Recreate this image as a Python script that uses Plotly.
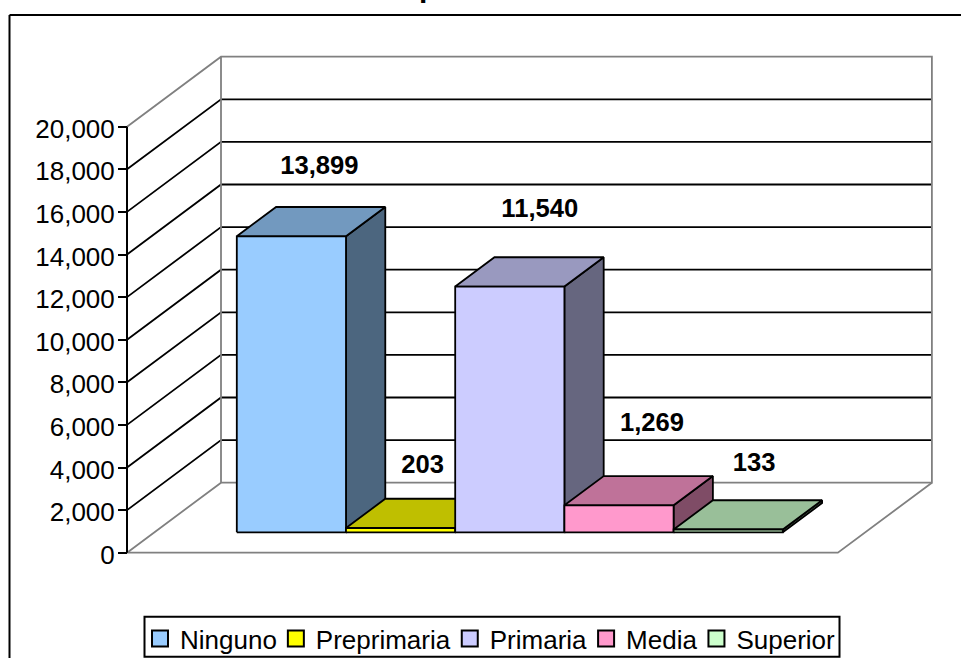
import plotly.graph_objects as go

categories = ["Ninguno", "Preprimaria", "Primaria", "Media", "Superior"]
values = [13899, 203, 11540, 1269, 133]
value_labels = ["13,899", "203", "11,540", "1,269", "133"]
colors = ["#99CCFF", "#FFFF00", "#CCCCFF", "#FF99CC", "#CCFFCC"]
tick_values = list(range(0, 20001, 2000))
tick_labels = [f"{v:,}" for v in tick_values]

W, H = 961, 658
CAT_PX = 109.2            # pixels per category
VAL_PX = 426 / 20000      # pixels per value unit
AX_LEFT_PX, AX_ZERO_PX = 127, 552.7
CAT_MIN, CAT_MAX = -0.755, 5.755
DX = 94 / CAT_PX          # depth offset in category units
DY = 70 / VAL_PX          # depth offset in value units
BAR_D0, BAR_D1 = 0.291, 0.709
LINE = 1.8
GREY = "#808080"

# label offsets from the top-centre of each bar's front face, in px
label_dx_px = [28, 22, 30, 33, 26]
label_dy_px = [68.5, 61.5, 75.5, 81, 65]

x0 = CAT_MIN - AX_LEFT_PX / CAT_PX
y0 = -(H - AX_ZERO_PX) / VAL_PX


def proj(c, v, d):
    return c + DX * d, v + DY * d


def shade(hexcolor, f):
    r, g, b = (int(hexcolor[i:i + 2], 16) for i in (1, 3, 5))
    return f"rgb({int(r * f)},{int(g * f)},{int(b * f)})"


def path(points):
    pts = [proj(*p) for p in points]
    return [p[0] for p in pts], [p[1] for p in pts]


fig = go.Figure()


def line(points, color, width=LINE):
    x, y = path(points)
    fig.add_trace(go.Scatter(x=x, y=y, mode="lines", showlegend=False, hoverinfo="skip",
                             line=dict(color=color, width=width)))


def poly(points, fill):
    x, y = path(points + points[:1])
    fig.add_trace(go.Scatter(x=x, y=y, mode="lines", fill="toself", fillcolor=fill, showlegend=False,
                             hoverinfo="skip", line=dict(color="black", width=LINE)))


# Grid lines on side and back wall
for v in tick_values[1:-1]:
    line([(CAT_MIN, v, 0), (CAT_MIN, v, 1), (CAT_MAX, v, 1)], "black")
# Wall and floor outline
top = tick_values[-1]
line([(CAT_MIN, top, 0), (CAT_MIN, top, 1), (CAT_MAX, top, 1), (CAT_MAX, 0, 1), (CAT_MIN, 0, 1), (CAT_MIN, top, 1)], GREY)
line([(CAT_MIN, 0, 1), (CAT_MIN, 0, 0), (CAT_MAX, 0, 0), (CAT_MAX, 0, 1)], GREY)
# Value axis line
line([(CAT_MIN, 0, 0), (CAT_MIN, top, 0)], "black", 2)

# Bars, painted from the far (left) side to the near (right) side
for i, (v, col) in enumerate(zip(values, colors)):
    a, b = i, i + 1
    poly([(b, 0, BAR_D0), (b, 0, BAR_D1), (b, v, BAR_D1), (b, v, BAR_D0)], shade(col, 0.5))
    poly([(a, v, BAR_D0), (a, v, BAR_D1), (b, v, BAR_D1), (b, v, BAR_D0)], shade(col, 0.75))
    poly([(a, 0, BAR_D0), (b, 0, BAR_D0), (b, v, BAR_D0), (a, v, BAR_D0)], col)

# Value labels
lx, ly = [], []
for i, v in enumerate(values):
    x, y = proj(i + 0.5, v, BAR_D0)
    lx.append(x + label_dx_px[i] / CAT_PX)
    ly.append(y + label_dy_px[i] / VAL_PX)
fig.add_trace(go.Scatter(x=lx, y=ly, mode="text", text=value_labels, textposition="middle center",
                         showlegend=False, hoverinfo="skip", cliponaxis=False,
                         textfont=dict(family="Liberation Sans", size=25.6, color="black", weight="bold")))

# Legend entries
for name, col in zip(categories, colors):
    fig.add_trace(go.Scatter(x=[None], y=[None], mode="markers", name=name,
                             marker=dict(symbol="square", size=16, color=col, line=dict(color="black", width=2))))

fig.update_layout(
    width=W, height=H, margin=dict(l=0, r=0, t=0, b=0, pad=0, autoexpand=False),
    paper_bgcolor="white", plot_bgcolor="white",
    font=dict(family="Liberation Sans", color="black"),
    xaxis=dict(range=[x0, x0 + W / CAT_PX], visible=False, fixedrange=True),
    yaxis=dict(range=[y0, y0 + H / VAL_PX], anchor="free", position=AX_LEFT_PX / W, side="left",
               tickmode="array", tickvals=tick_values, ticktext=tick_labels, showgrid=False, zeroline=False,
               showline=False, ticks="outside", ticklen=9, tickwidth=2, tickcolor="black",
               tickfont=dict(size=26, color="black"), ticklabelstandoff=-2, ticklabelshift=2, fixedrange=True),
    legend=dict(orientation="h", x=146 / W, xanchor="left", y=1 - 615 / H, yanchor="top",
                bgcolor="rgba(0,0,0,0)", borderwidth=0, indentation=-6,
                font=dict(size=26, color="black"), itemclick=False, itemdoubleclick=False),
    shapes=[dict(type="line", xref="paper", yref="paper", x0=9.5 / W, x1=1, y0=1 - 15 / H, y1=1 - 15 / H,
                 line=dict(color="black", width=2)),
            dict(type="line", xref="paper", yref="paper", x0=9.5 / W, x1=9.5 / W, y0=0, y1=1 - 15 / H,
                 line=dict(color="black", width=2)),
            dict(type="rect", xref="paper", yref="paper", x0=144.5 / W, x1=839.5 / W, y0=1 - 656.7 / H, y1=1 - 616.7 / H,
                 line=dict(color="black", width=2))],
    annotations=[dict(text="<b>p</b>", xref="paper", yref="paper", x=428 / W, y=1 + 14 / H, xanchor="center",
                      yanchor="middle", showarrow=False, font=dict(size=30, color="black"))],
)
fig.write_html("out.html", config=dict(displayModeBar=False),
               post_script="document.body.style.margin='0';document.documentElement.style.overflow='hidden';")
